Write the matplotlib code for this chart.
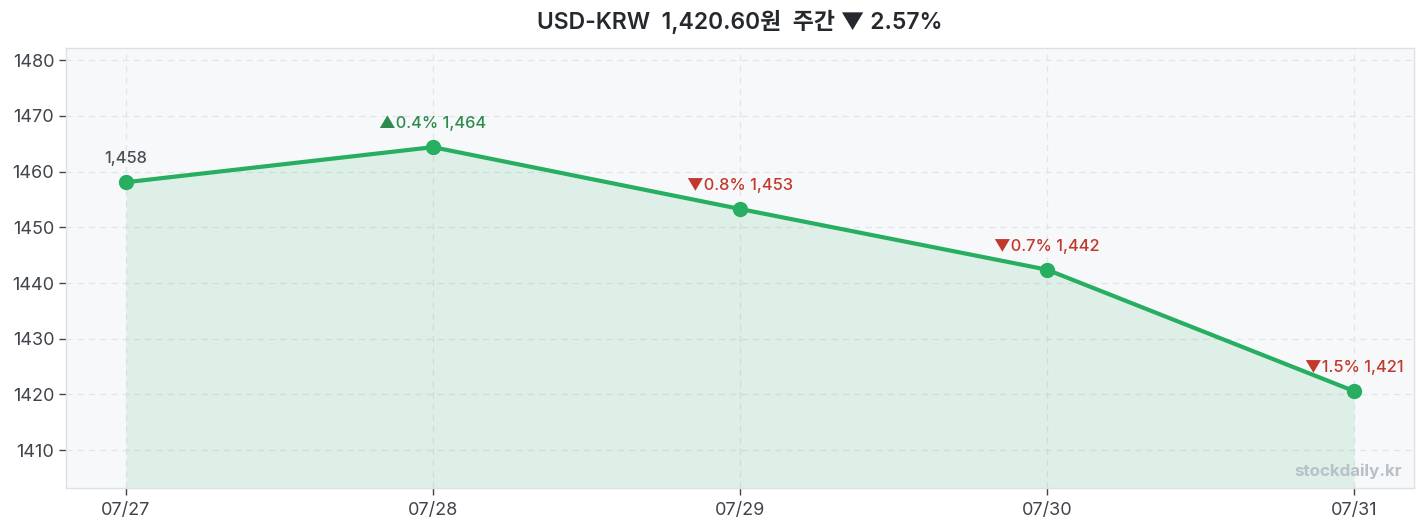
import matplotlib
matplotlib.use("Agg")
import matplotlib.pyplot as plt

dates = ["07/27", "07/28", "07/29", "07/30", "07/31"]
values = [1458.1, 1464.4, 1453.3, 1442.4, 1420.6]
labels = ["1,458", "▲0.4% 1,464", "▼0.8% 1,453", "▼0.7% 1,442", "▼1.5% 1,421"]
label_dirs = [0, 1, -1, -1, -1]
yticks = [1410, 1420, 1430, 1440, 1450, 1460, 1470, 1480]
title = "USD-KRW  1,420.60원  주간 ▼ 2.57%"

plt.rcParams['font.family'] = ['Inter', 'Noto Sans CJK KR', 'DejaVu Sans']

fig = plt.figure(figsize=(14.27, 5.29), dpi=100)
ax = fig.add_axes([66/1427, 1 - 488/529, (1414-66)/1427, (488-48)/529])

line_c = "#27ae60"
ax.set_facecolor("#f7f8fa")
for s in ax.spines.values():
    s.set_color("#dde0e6")
    s.set_linewidth(1.0)

x = list(range(len(dates)))
ylo, yhi = 1403.2, 1482.2
ax.fill_between(x, values, ylo, color=line_c, alpha=0.12, linewidth=0, zorder=1)
ax.plot(x, values, color=line_c, linewidth=3, marker="o", markersize=10, zorder=3)

colors = {0: "#4a4f57", 1: "#2e8b4e", -1: "#c0392b"}
for xi, v, lab, d in zip(x, values, labels, label_dirs):
    ax.annotate(lab, (xi, v), xytext=(0, 11.5), textcoords="offset points",
                ha="center", va="bottom", fontsize=11.8, color=colors[d],
                fontweight="medium", zorder=4)

ax.set_xlim(-60/307, 4 + 60/307)
ax.set_ylim(ylo, yhi)
ax.set_xticks(x)
ax.set_xticklabels(dates)
ax.set_yticks(yticks)
ax.tick_params(axis="both", labelsize=13, colors="#444", labelcolor="#40444b", length=5, width=1)
ax.tick_params(axis="x", pad=5)
ax.grid(True, color="#e3e5ea", linestyle=(0, (5, 4)), linewidth=0.9, zorder=0)
ax.set_axisbelow(True)

ax.text(0.991, 0.02, "stockdaily.kr", transform=ax.transAxes, ha="right", va="bottom",
        fontsize=12.2, color="#b8c0c8", fontweight="bold", zorder=5)

ax.text(0.5, 1 + 26/440, title, transform=ax.transAxes, ha="center", va="center",
        fontsize=16.5, fontweight="semibold", color="#25282d")

fig.savefig("out.png", dpi=100, facecolor="white")
